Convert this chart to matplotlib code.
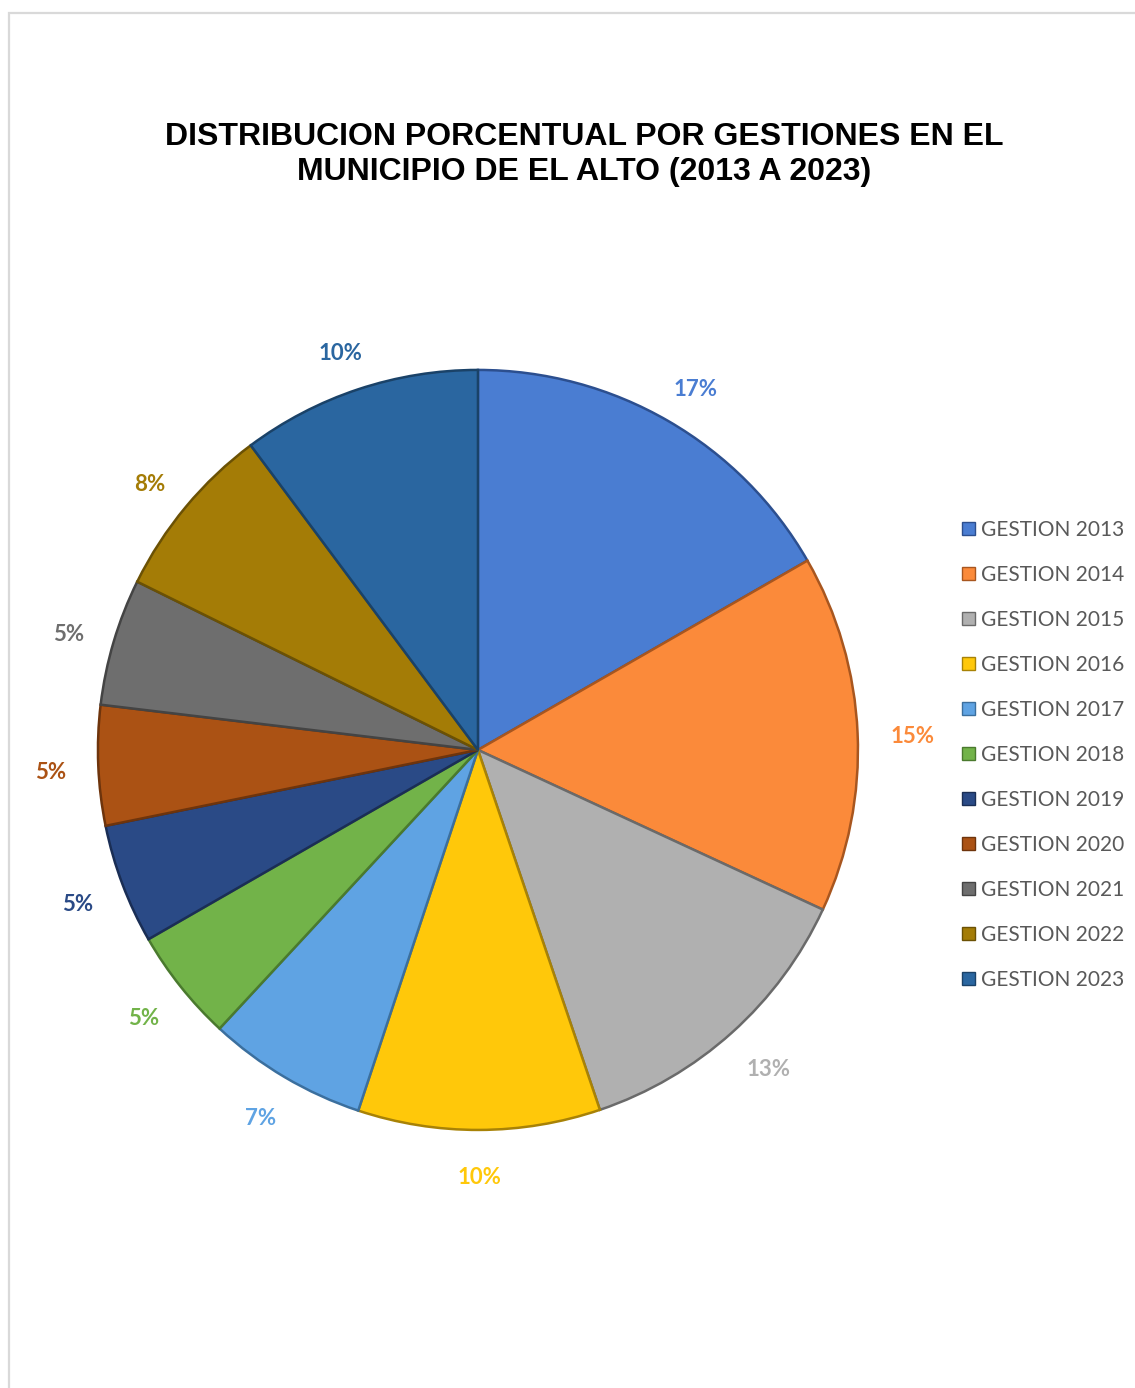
import numpy as np
import matplotlib.pyplot as plt
from matplotlib.patches import Rectangle, Patch

# Porcentaje por gestion, en el orden en que se dibujan (sentido horario desde arriba)
gestiones = ["GESTION 2013", "GESTION 2014", "GESTION 2015", "GESTION 2016",
             "GESTION 2017", "GESTION 2018", "GESTION 2019", "GESTION 2020",
             "GESTION 2021", "GESTION 2022", "GESTION 2023"]
porcentajes = [16.7, 15.2, 12.9, 10.3, 6.8, 4.8, 5.1, 5.1, 5.4, 7.5, 10.2]
colores = ["#4a7dd2", "#fb8a3a", "#b0b0b0", "#ffc80a", "#5fa3e3", "#72b349",
           "#2a4a86", "#ab5214", "#6e6e6e", "#a47c06", "#2a66a0"]
bordes = ["#2c4f8f", "#a8561f", "#6a6a6a", "#a88206", "#3b6f9e", "#4a7a2e",
          "#1a2e55", "#6e340c", "#444444", "#6b5104", "#1a4268"]

fig = plt.figure(figsize=(11.35, 13.88), dpi=100)

# marco gris del area del grafico
fig.patches.append(Rectangle((0.0079, -0.1), 1.2, 0.9906 + 0.1, transform=fig.transFigure,
                             fill=False, ec="#d9d9d9", lw=1.6, clip_on=False))

fig.text(0.515, 0.8885, "DISTRIBUCION PORCENTUAL POR GESTIONES EN EL\nMUNICIPIO DE EL ALTO (2013 A 2023)",
         ha="center", va="center", fontsize=23, fontweight="bold",
         family="Liberation Sans", linespacing=1.2)

ax = fig.add_axes([0.0863, 0.1859, 0.6696, 0.5476])
wedges, _ = ax.pie(porcentajes, colors=colores, startangle=90, counterclock=False,
                   radius=1.0, wedgeprops=dict(linewidth=1.8))
for w, b in zip(wedges, bordes):
    w.set_edgecolor(b)
ax.set_xlim(-1, 1)
ax.set_ylim(-1, 1)
ax.set_aspect("equal")

# etiquetas de porcentaje fuera del borde, con la caja apoyada en un circulo exterior
total = sum(porcentajes)
for w, v, c in zip(wedges, porcentajes, colores):
    ang = np.deg2rad((w.theta1 + w.theta2) / 2)
    txt = f"{v / total * 100:.0f}%"
    half_w = 0.02 * len(txt)
    half_h = 0.027
    x = 1.085 * np.cos(ang) + half_w * np.cos(ang)
    y = 1.085 * np.sin(ang) + half_h * np.sin(ang) - 0.013
    ax.text(x, y, txt, ha="center", va="center", color=c, fontsize=16,
            fontweight="bold", family="Lato")

handles = [Patch(facecolor=c, edgecolor=b, linewidth=1.0) for c, b in zip(colores, bordes)]
fig.legend(handles, gestiones, loc="upper left", bbox_to_anchor=(0.8386, 0.633),
           frameon=False, handlelength=0.62, handleheight=0.62, handletextpad=0.3,
           labelspacing=1.2, borderpad=0, labelcolor="#595959",
           prop=dict(family="Lato", size=15))

fig.savefig("out.png", dpi=100, facecolor="white")
